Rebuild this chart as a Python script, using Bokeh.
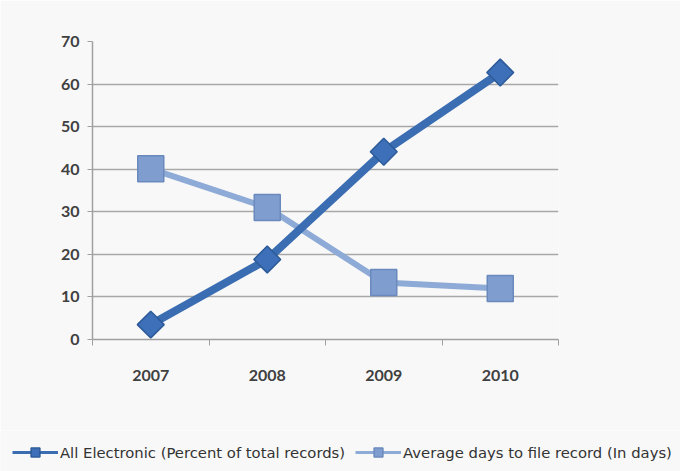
import numpy as np
from bokeh.plotting import figure
from bokeh.models import FixedTicker, Legend, LegendItem, Range1d, ColumnDataSource
from bokeh.embed import file_html
from bokeh.resources import INLINE

years = ["2007", "2008", "2009", "2010"]
electronic = [3.5, 18.8, 44.1, 62.7]
avg_days = [40.1, 31.0, 13.4, 12.0]
y_ticks = [0, 10, 20, 30, 40, 50, 60, 70]
name_e = "All Electronic (Percent of total records)"
name_a = "Average days to file record (In days)"

xpos = [i + 0.5 for i in range(len(years))]
src = ColumnDataSource(dict(x=xpos, e=electronic, a=avg_days))

BG = "#f8f8f8"
E_COL = dict(line_color="#3b6db2")
E_MARK = dict(marker="square", angle=np.pi / 4,
              fill_color="#3d70b8", line_color="#2d5a98", line_width=1.5)
A_COL = dict(line_color="#8eaad6")
A_MARK = dict(marker="square",
              fill_color="#7f9dcf", line_color="#6a89bd", line_width=1.5)

p = figure(width=680, height=430, output_backend="svg", toolbar_location=None,
           x_range=Range1d(0, len(years)), y_range=Range1d(0, 70),
           min_border_left=92, min_border_right=122, min_border_top=41,
           min_border_bottom=91)
p.background_fill_color = BG
p.border_fill_color = BG
p.outline_line_color = None

# axes
p.xaxis.ticker = FixedTicker(ticks=xpos, minor_ticks=list(range(len(years) + 1)))
p.xaxis.major_label_overrides = {x: y for x, y in zip(xpos, years)}
p.xaxis.major_tick_line_color = None
p.xaxis.minor_tick_line_color = "#a0a0a0"
p.xaxis.minor_tick_out = 6
p.xaxis.minor_tick_in = 0
p.xaxis.axis_line_color = "#a0a0a0"
p.xaxis.axis_line_width = 1.5
p.xaxis.major_label_standoff = 24
for ax in (p.xaxis, p.yaxis):
    ax.major_label_text_font = "Lato"
    ax.major_label_text_font_style = "bold"
    ax.major_label_text_font_size = "16px"
    ax.major_label_text_color = "#404040"

p.yaxis.ticker = FixedTicker(ticks=y_ticks)
p.yaxis.minor_tick_line_color = None
p.yaxis.major_tick_out = 5
p.yaxis.major_tick_in = 0
p.yaxis.major_tick_line_color = "#a0a0a0"
p.yaxis.axis_line_color = "#a0a0a0"
p.yaxis.axis_line_width = 1.5
p.yaxis.major_label_standoff = 8

p.xgrid.grid_line_color = None
p.ygrid.grid_line_color = "#a8a8a8"
p.ygrid.grid_line_width = 1.5
p.ygrid.ticker = FixedTicker(ticks=y_ticks)

# series
p.line("x", "a", source=src, line_width=6, **A_COL)
p.scatter("x", "a", source=src, size=26, **A_MARK)
p.line("x", "e", source=src, line_width=8, **E_COL)
p.scatter("x", "e", source=src, size=19, **E_MARK)

# legend strip (same series, drawn off-range so only the legend shows)
lg = figure(width=680, height=41, output_backend="svg", toolbar_location=None,
            x_range=Range1d(100, 101), y_range=Range1d(100, 101),
            min_border_left=0, min_border_right=0, min_border_top=0,
            min_border_bottom=0)
lg.axis.visible = False
lg.grid.visible = False
lg.outline_line_color = None
lg.background_fill_color = BG
lg.border_fill_color = BG
le = lg.line("x", "e", source=src, line_width=3, **E_COL)
me = lg.scatter("x", "e", source=src, size=10, **E_MARK)
la = lg.line("x", "a", source=src, line_width=3, **A_COL)
ma = lg.scatter("x", "a", source=src, size=10, **A_MARK)

legend = Legend(items=[LegendItem(label=name_e, renderers=[le, me]),
                       LegendItem(label=name_a, renderers=[la, ma])],
                location=(12, 8), orientation="horizontal",
                background_fill_alpha=0, border_line_color=None,
                label_text_font="DejaVu Sans", label_text_font_size="14.8px",
                label_text_color="#333333", glyph_width=46, glyph_height=22,
                label_standoff=2, spacing=10, padding=4, margin=0)
lg.add_layout(legend, "center")

open("out.html", "w").write(file_html([p, lg], INLINE))
